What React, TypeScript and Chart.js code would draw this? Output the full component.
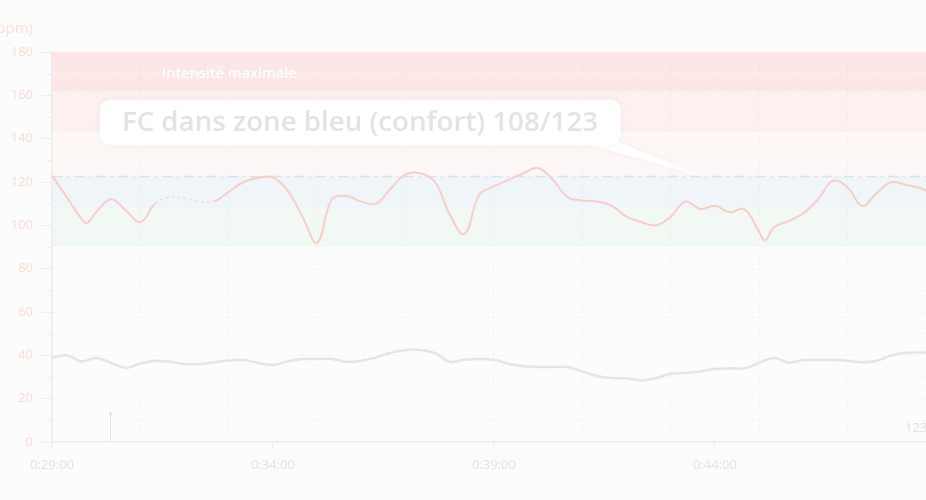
import React, { useEffect, useRef } from 'react';
import { Chart, registerables } from 'chart.js';

Chart.register(...registerables);

// ---- data ----
const secondTimes = [
  '0:29:00','0:29:20','0:29:40','0:30:00','0:30:20','0:30:40','0:31:00','0:31:20','0:31:40','0:32:00',
  '0:32:20','0:32:40','0:33:00','0:33:20','0:33:40','0:34:00','0:34:20','0:34:40','0:35:00','0:35:20',
  '0:35:40','0:36:00','0:36:20','0:36:40','0:37:00','0:37:20','0:37:40','0:38:00','0:38:20','0:38:40',
  '0:39:00','0:39:20','0:39:40','0:40:00','0:40:20','0:40:40','0:41:00','0:41:20','0:41:40','0:42:00',
  '0:42:20','0:42:40','0:43:00','0:43:20','0:43:40','0:44:00','0:44:20','0:44:40','0:45:00','0:45:20',
  '0:45:40','0:46:00','0:46:20','0:46:40','0:47:00','0:47:20','0:47:40','0:48:00','0:48:20','0:48:40',
  '0:49:00',
];
const secondValues = [
  38.8, 40, 37.2, 38.8, 36.5, 34.2, 36.2, 37.5, 37, 36,
  36, 36.8, 37.6, 37.8, 36.5, 35.5, 37.2, 38.3, 38.3, 38.3,
  37, 37.5, 39, 41.2, 42.5, 42.5, 41, 37, 38, 38.3,
  38, 36, 35, 34.6, 34.6, 34.6, 32.5, 30.5, 29.5, 29.4,
  28.4, 29.5, 31.5, 31.8, 32.5, 33.7, 34, 34, 36.5, 38.8,
  36.7, 37.8, 37.8, 37.8, 37.5, 36.8, 37.5, 40, 41.2, 41.3,
  41,
];
const hrTimes = [
  '0:29:00','0:29:20','0:29:40','0:29:47','0:30:00','0:30:20','0:30:40','0:31:00','0:31:20','0:31:40','0:32:00',
  '0:32:20','0:32:40','0:33:00','0:33:20','0:33:40','0:34:00','0:34:20','0:34:40','0:35:00','0:35:20',
  '0:35:40','0:36:00','0:36:20','0:36:40','0:37:00','0:37:20','0:37:40','0:38:00','0:38:20','0:38:40',
  '0:39:00','0:39:20','0:39:40','0:40:00','0:40:20','0:40:40','0:41:00','0:41:20','0:41:40','0:42:00',
  '0:42:20','0:42:40','0:43:00','0:43:20','0:43:40','0:44:00','0:44:20','0:44:40','0:45:00','0:45:08','0:45:20',
  '0:45:40','0:46:00','0:46:20','0:46:40','0:47:00','0:47:20','0:47:40','0:48:00','0:48:20','0:48:40',
  '0:49:00',
];
const hrValues = [
  123, 113, 103, 101, 106, 112, 107, 101.5, 110, 113, 112.5,
  111, 111, 115.5, 120, 122, 122, 116, 104, 92, 112,
  113.5, 111, 110, 117, 123.5, 124, 120, 105, 96, 114,
  118, 121, 124, 126.5, 121, 113, 111.5, 111, 109, 104,
  101.5, 100, 104, 111, 107.5, 109, 106, 107.5, 97, 93, 99,
  102, 105.6, 112, 120.5, 117.5, 109, 115, 120, 118.6, 117,
  113,
];
const dashedRange = ['0:31:20', '0:32:40'];
const xTickLabels = ['0:29:00', '0:34:00', '0:39:00', '0:44:00', '0:49:00'];
const yTickLabels = ['0', '20', '40', '60', '80', '100', '120', '140', '160', '180'];
const yAxisTitle = '(bpm)';
const zoneBounds = [90, 108, 123, 143, 162, 180];
const zoneColors = ['#f2f8f3', '#eff5f9', '#fdf7f5', '#fdf1f0', '#fde6e6'];
const zoneLabel = 'Intensité maximale';
const zoneLabelAt = ['0:31:29', 170];
const thresholdValue = 123;
const calloutText = 'FC dans zone bleu (confort) 108/123';
const calloutBox = ['0:30:05', '0:41:52', 158, 137];
const calloutTarget = ['0:43:40', 123];
const eventTimes = ['0:30:19'];
const eventValues = [14];
const cornerLabel = '123';
const cornerLabelAt = ['0:48:18', 6.5];

const toSec = (s: string) => {
  const p = s.split(':').map(Number);
  return p[0] * 3600 + p[1] * 60 + p[2];
};
const fmt = (v: number) => {
  const h = Math.floor(v / 3600);
  const m = Math.floor((v % 3600) / 60);
  const s = Math.round(v % 60);
  return `${h}:${String(m).padStart(2, '0')}:${String(s).padStart(2, '0')}`;
};

const AXIS = '#ececec';
const FONT = "'Open Sans', sans-serif";

const decor = {
  id: 'decor',
  beforeDraw(chart: any) {
    const { ctx, chartArea: a, scales } = chart;
    const y = scales.y;
    ctx.save();
    ctx.fillStyle = '#fcfcfc';
    ctx.fillRect(0, 0, chart.width, chart.height);
    for (let i = 0; i < zoneColors.length; i++) {
      const top = y.getPixelForValue(zoneBounds[i + 1]);
      const bot = y.getPixelForValue(zoneBounds[i]);
      ctx.fillStyle = zoneColors[i];
      ctx.fillRect(a.left, top, a.right - a.left, bot - top);
    }
    // y axis title
    ctx.fillStyle = '#f7e0d8';
    ctx.font = `15px ${FONT}`;
    ctx.textAlign = 'right';
    ctx.textBaseline = 'middle';
    ctx.fillText(yAxisTitle, 33, 29);
    ctx.restore();
  },
  beforeDatasetsDraw(chart: any) {
    const { ctx, chartArea: a, scales } = chart;
    const x = scales.x, y = scales.y;
    ctx.save();
    // threshold dash-dot
    const ty = Math.round(y.getPixelForValue(thresholdValue)) + 0.5;
    ctx.strokeStyle = '#dce1e7';
    ctx.lineWidth = 1.3;
    ctx.setLineDash([10, 5, 2, 5]);
    ctx.beginPath();
    ctx.moveTo(a.left, ty);
    ctx.lineTo(a.right, ty);
    ctx.stroke();
    ctx.setLineDash([]);
    // zone label
    ctx.fillStyle = 'rgba(255,255,255,0.95)';
    ctx.font = `600 14.5px ${FONT}`;
    ctx.textAlign = 'left';
    ctx.textBaseline = 'middle';
    ctx.fillText(zoneLabel, x.getPixelForValue(toSec(zoneLabelAt[0] as string)), y.getPixelForValue(zoneLabelAt[1] as number));
    // event markers
    eventTimes.forEach((t, i) => {
      const px = Math.round(x.getPixelForValue(toSec(t))) + 0.5;
      const top = y.getPixelForValue(eventValues[i]);
      const bot = y.getPixelForValue(0);
      ctx.strokeStyle = '#f4e0dc';
      ctx.lineWidth = 1;
      ctx.beginPath();
      ctx.moveTo(px, bot);
      ctx.lineTo(px, top + 8);
      ctx.stroke();
      ctx.strokeStyle = '#e2e2e2';
      ctx.beginPath();
      ctx.moveTo(px, top + 8);
      ctx.lineTo(px, top);
      ctx.stroke();
      ctx.fillStyle = '#dedede';
      ctx.beginPath();
      ctx.moveTo(px - 2, top + 3);
      ctx.lineTo(px + 2, top + 3);
      ctx.lineTo(px, top);
      ctx.fill();
    });
    // corner label
    ctx.fillStyle = '#e2e2e2';
    ctx.font = `13px ${FONT}`;
    ctx.fillText(cornerLabel, x.getPixelForValue(toSec(cornerLabelAt[0] as string)), y.getPixelForValue(cornerLabelAt[1] as number));
    ctx.restore();
  },
  afterDraw(chart: any) {
    const { ctx, scales } = chart;
    const x = scales.x, y = scales.y;
    ctx.save();
    // minor y ticks
    ctx.strokeStyle = AXIS;
    ctx.lineWidth = 1;
    y.ticks.forEach((t: any) => {
      if (t.value % 20 !== 0) {
        const py = Math.round(y.getPixelForValue(t.value)) + 0.5;
        ctx.beginPath();
        ctx.moveTo(y.right - 5, py);
        ctx.lineTo(y.right, py);
        ctx.stroke();
      }
    });
    // callout
    const l = x.getPixelForValue(toSec(calloutBox[0] as string));
    const r = x.getPixelForValue(toSec(calloutBox[1] as string));
    const t = y.getPixelForValue(calloutBox[2] as number);
    const b = y.getPixelForValue(calloutBox[3] as number);
    const tx = x.getPixelForValue(toSec(calloutTarget[0] as string));
    const ty = y.getPixelForValue(calloutTarget[1] as number);
    ctx.shadowColor = 'rgba(0,0,0,0.04)';
    ctx.shadowBlur = 8;
    ctx.fillStyle = '#ffffff';
    ctx.beginPath();
    ctx.moveTo(r - 30, b);
    ctx.lineTo(r - 4, b - 4);
    ctx.lineTo(tx, ty);
    ctx.closePath();
    ctx.fill();
    ctx.beginPath();
    (ctx as any).roundRect(l, t, r - l, b - t, 10);
    ctx.fill();
    ctx.shadowBlur = 0;
    ctx.shadowColor = 'transparent';
    ctx.fillStyle = '#e3e3e3';
    ctx.font = `600 27.7px ${FONT}`;
    ctx.textAlign = 'left';
    ctx.textBaseline = 'middle';
    ctx.fillText(calloutText, l + 22, (t + b) / 2 + 1);
    ctx.restore();
  },
};

export default function App() {
  const ref = useRef<HTMLCanvasElement | null>(null);
  useEffect(() => {
    document.body.style.margin = '0';
    document.body.style.overflow = 'hidden';
    if (!ref.current) return;
    const dStart = toSec(dashedRange[0]);
    const dEnd = toSec(dashedRange[1]);
    const chart = new Chart(ref.current, {
      type: 'line',
      data: {
        datasets: [
          {
            data: hrTimes.map((t, i) => ({ x: toSec(t), y: hrValues[i] })),
            borderColor: '#f9cdc5',
            borderWidth: 2,
            tension: 0.4,
            pointRadius: 0,
            segment: {
              borderDash: (c: any) => (c.p0.parsed.x >= dStart && c.p1.parsed.x <= dEnd ? [3, 3] : undefined),
              borderColor: (c: any) => (c.p0.parsed.x >= dStart && c.p1.parsed.x <= dEnd ? '#f9ddd8' : undefined),
            },
          } as any,
          {
            data: secondTimes.map((t, i) => ({ x: toSec(t), y: secondValues[i] })),
            borderColor: '#e4e5eb',
            borderWidth: 2.5,
            tension: 0.4,
            pointRadius: 0,
          },
        ],
      },
      options: {
        responsive: false,
        animation: false,
        events: [],
        layout: { padding: { top: 52, right: 17, left: 0, bottom: 0 } },
        plugins: { legend: { display: false }, tooltip: { enabled: false } },
        scales: {
          x: {
            type: 'linear',
            min: toSec('0:29:00'),
            max: toSec('0:49:30'),
            afterFit: (s: any) => { s.height = 58; },
            ticks: {
              stepSize: 60,
              autoSkip: false,
              maxRotation: 0,
              padding: 9,
              color: '#e2e2e2',
              font: { family: FONT, size: 13 },
              callback: (v: any) => { const l = fmt(Number(v)); return xTickLabels.includes(l) ? l : ''; },
            },
            grid: {
              color: (c: any) => {
                const m = c.tick ? c.tick.value / 60 : 0;
                return Number.isInteger(m) && m % 2 === 1 && c.tick.value > toSec('0:29:00') ? 'rgba(0,0,0,0.03)' : 'transparent';
              },
              lineWidth: 1,
              tickLength: 6,
              tickColor: (c: any) => (c.tick && xTickLabels.includes(fmt(c.tick.value)) ? AXIS : 'transparent'),
            },
            border: { color: AXIS, width: 1.5, dash: [3, 3] },
          },
          y: {
            min: 0,
            max: 180,
            afterFit: (s: any) => { s.width = 52; },
            ticks: {
              stepSize: 10,
              autoSkip: false,
              padding: 9,
              color: '#f7ddd4',
              font: { family: FONT, size: 13 },
              callback: (v: any) => (yTickLabels.includes(String(v)) ? String(v) : ''),
            },
            grid: {
              color: (c: any) => {
                const v = c.tick ? c.tick.value : 0;
                if (v <= 0 || v >= 180 || v === 90) return 'transparent';
                if (v === 170) return 'rgba(255,255,255,0.8)';
                if (v > 90) return 'rgba(255,255,255,0.3)';
                return 'rgba(0,0,0,0.045)';
              },
              lineWidth: 1,
              tickLength: 10,
              tickColor: (c: any) => (c.tick && c.tick.value % 20 === 0 ? AXIS : 'transparent'),
            },
            border: { color: AXIS, width: 1.5, dash: [2, 3] },
          },
        },
      },
      plugins: [decor],
    } as any);
    return () => chart.destroy();
  }, []);
  return (
    <div style={{ width: 926, height: 500, overflow: 'hidden', background: '#fcfcfc' }}>
      <canvas ref={ref} width={975} height={500} style={{ display: 'block', width: 975, height: 500 }} />
    </div>
  );
}
